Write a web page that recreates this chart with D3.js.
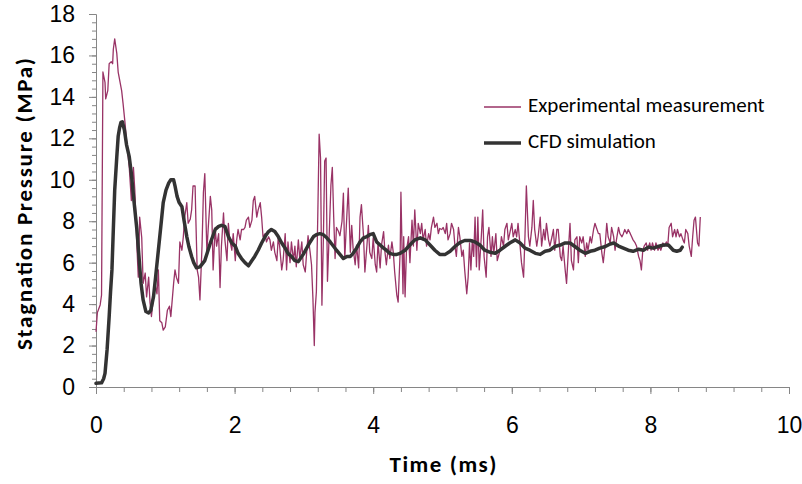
<!DOCTYPE html>
<html>
<head>
<meta charset="utf-8">
<script src="https://cdn.jsdelivr.net/npm/d3@7"></script>
<style>
  html, body { margin: 0; padding: 0; background: #fff; }
  svg { display: block; font-family: Calibri, Carlito, Lato, sans-serif; }
</style>
</head>
<body>
<svg id="chart" width="802" height="484"></svg>
<script>
// Measured stagnation pressure: [time (ms), pressure (MPa)]
const expData = [
  [0.00,2.67],[0.02,3.6],[0.06,3.96],[0.08,4.44],[0.10,15.2],[0.13,14.7],[0.14,13.9],[0.17,14.3],[0.19,15.6],[0.22,15.7],
  [0.24,15.6],[0.25,16.3],[0.27,16.8],[0.30,16.1],[0.32,15.2],[0.37,14.3],[0.39,13.7],[0.42,12.7],[0.44,11.9],[0.48,10.6],
  [0.51,9.0],[0.54,10.6],[0.56,9.5],[0.59,6.8],[0.61,5.3],[0.63,8.2],[0.66,7.2],[0.68,5.0],[0.71,5.5],[0.73,4.35],
  [0.76,5.3],[0.78,4.06],[0.80,3.4],[0.85,5.0],[0.88,4.5],[0.90,5.65],[0.92,3.2],[0.95,3.1],[0.97,2.75],[1.00,2.9],
  [1.03,3.7],[1.06,3.9],[1.08,3.4],[1.12,5.0],[1.14,5.65],[1.16,5.3],[1.19,5.0],[1.21,7.0],[1.24,6.6],[1.26,7.25],
  [1.28,8.2],[1.31,8.9],[1.33,7.9],[1.36,8.1],[1.38,8.55],[1.40,9.7],[1.43,9.7],[1.44,8.2],[1.46,5.65],[1.48,5.3],
  [1.50,4.2],[1.53,6.8],[1.55,9.4],[1.57,10.3],[1.60,6.5],[1.62,7.7],[1.65,9.2],[1.67,8.55],[1.69,5.65],[1.72,7.7],
  [1.74,6.8],[1.77,7.4],[1.79,4.8],[1.81,6.8],[1.84,8.4],[1.86,7.1],[1.89,6.1],[1.91,7.9],[1.93,7.1],[1.96,6.6],
  [1.98,7.4],[2.01,6.1],[2.03,7.1],[2.05,7.6],[2.08,7.1],[2.10,7.6],[2.13,7.6],[2.15,7.7],[2.17,8.05],[2.20,8.2],
  [2.22,7.7],[2.25,8.05],[2.27,9.0],[2.29,9.2],[2.32,8.2],[2.34,8.55],[2.37,8.9],[2.39,8.2],[2.41,7.25],[2.44,7.4],
  [2.46,7.0],[2.49,7.25],[2.51,7.1],[2.53,6.6],[2.56,7.0],[2.58,6.5],[2.61,6.1],[2.63,7.25],[2.65,6.8],[2.68,5.65],
  [2.70,6.1],[2.73,7.4],[2.75,5.65],[2.77,7.0],[2.80,6.0],[2.82,7.0],[2.85,6.1],[2.87,6.8],[2.89,5.8],[2.92,7.1],
  [2.94,6.2],[2.97,7.0],[2.99,5.9],[3.02,5.55],[3.04,6.5],[3.06,7.3],[3.09,6.5],[3.11,5.9],[3.13,4.3],[3.15,2.0],
  [3.16,3.6],[3.18,4.6],[3.20,8.2],[3.22,12.2],[3.24,11.05],[3.26,3.95],[3.28,7.0],[3.30,10.9],[3.32,11.05],[3.34,5.1],
  [3.37,7.8],[3.39,9.75],[3.41,10.6],[3.43,8.2],[3.45,6.2],[3.47,7.7],[3.50,7.5],[3.52,7.3],[3.55,8.0],[3.57,9.35],
  [3.59,6.2],[3.62,8.3],[3.64,9.6],[3.67,6.5],[3.69,7.8],[3.71,6.7],[3.74,5.9],[3.76,6.85],[3.79,5.75],[3.81,8.2],
  [3.83,8.8],[3.86,7.3],[3.88,5.55],[3.91,6.85],[3.93,7.8],[3.95,6.5],[3.98,6.2],[4.00,7.2],[4.03,5.9],[4.05,5.55],
  [4.07,7.0],[4.10,5.75],[4.12,6.85],[4.15,7.5],[4.17,6.5],[4.19,5.9],[4.22,6.85],[4.24,6.2],[4.27,7.0],[4.29,6.5],
  [4.31,5.55],[4.34,4.45],[4.36,4.1],[4.39,6.6],[4.40,9.4],[4.43,4.5],[4.44,7.25],[4.46,4.35],[4.48,6.6],[4.51,7.25],
  [4.53,6.0],[4.56,8.05],[4.58,6.8],[4.60,8.55],[4.63,6.6],[4.65,7.9],[4.68,7.4],[4.70,7.9],[4.72,7.1],[4.75,7.6],
  [4.77,6.8],[4.80,7.4],[4.82,7.1],[4.84,7.7],[4.87,8.2],[4.89,7.7],[4.92,7.9],[4.94,7.4],[4.96,7.65],[4.99,7.6],
  [5.01,7.7],[5.04,7.4],[5.06,7.9],[5.08,7.1],[5.11,7.4],[5.13,7.9],[5.16,7.6],[5.18,6.8],[5.20,6.3],[5.23,7.7],
  [5.25,7.25],[5.28,6.3],[5.30,6.6],[5.32,5.65],[5.35,4.5],[5.37,5.3],[5.39,6.95],[5.41,5.65],[5.43,7.1],[5.45,6.3],
  [5.47,8.2],[5.49,5.8],[5.51,8.2],[5.53,5.65],[5.56,7.25],[5.58,8.55],[5.60,6.3],[5.63,5.3],[5.65,7.25],[5.67,7.7],
  [5.70,6.3],[5.72,7.25],[5.74,6.45],[5.77,7.4],[5.79,6.1],[5.83,6.6],[5.85,7.25],[5.88,6.8],[5.90,7.6],[5.93,7.9],
  [5.95,7.1],[5.97,7.4],[6.00,7.9],[6.02,7.25],[6.05,7.6],[6.07,7.25],[6.09,7.9],[6.12,6.8],[6.14,6.0],[6.17,5.3],
  [6.19,7.25],[6.21,9.7],[6.24,7.25],[6.26,6.8],[6.29,7.7],[6.31,9.0],[6.33,7.6],[6.36,6.8],[6.38,7.25],[6.41,8.2],
  [6.43,6.8],[6.46,7.6],[6.48,7.1],[6.50,7.9],[6.53,7.1],[6.55,6.8],[6.58,7.25],[6.60,7.6],[6.62,6.6],[6.65,7.6],
  [6.67,7.6],[6.70,6.3],[6.72,6.1],[6.74,6.8],[6.77,5.65],[6.79,5.0],[6.82,6.8],[6.84,7.9],[6.86,6.1],[6.89,5.65],
  [6.91,7.1],[6.94,7.25],[6.96,6.0],[6.98,7.25],[7.01,6.95],[7.03,7.25],[7.06,6.3],[7.08,6.95],[7.10,6.6],[7.13,7.25],
  [7.15,6.95],[7.18,7.6],[7.20,7.9],[7.22,7.7],[7.25,7.4],[7.27,7.4],[7.30,6.45],[7.32,6.0],[7.35,6.95],[7.37,7.9],
  [7.39,7.25],[7.42,6.95],[7.44,7.7],[7.47,7.25],[7.49,6.6],[7.51,7.1],[7.54,7.7],[7.56,7.4],[7.59,7.25],[7.61,7.4],
  [7.63,7.6],[7.66,7.4],[7.68,7.6],[7.71,7.4],[7.73,7.25],[7.75,7.1],[7.78,6.95],[7.80,6.8],[7.83,6.3],[7.85,6.1],
  [7.87,5.65],[7.89,6.6],[7.91,6.8],[7.94,6.95],[7.96,6.6],[7.99,6.95],[8.01,6.6],[8.03,6.95],[8.06,6.6],[8.08,6.95],
  [8.11,6.6],[8.13,6.8],[8.15,6.6],[8.18,6.95],[8.20,6.8],[8.23,7.0],[8.25,6.8],[8.27,7.7],[8.30,7.9],[8.32,7.25],
  [8.35,7.6],[8.37,7.25],[8.39,7.6],[8.42,7.25],[8.44,7.4],[8.47,7.1],[8.49,6.95],[8.51,7.6],[8.54,7.4],[8.56,6.8],
  [8.59,6.3],[8.61,7.25],[8.63,8.05],[8.65,8.2],[8.68,6.95],[8.70,6.8],[8.72,8.2]
];

// Simulated stagnation pressure: [time (ms), pressure (MPa)]
const cfdData = [
  [0.00,0.18],[0.08,0.2],[0.11,0.4],[0.13,0.66],[0.16,1.8],[0.19,3.4],[0.21,4.6],[0.23,5.65],[0.25,7.6],[0.27,9.5],[0.30,11.1],[0.32,12.1],
  [0.34,12.5],[0.36,12.77],[0.38,12.8],[0.41,12.4],[0.44,11.7],[0.48,11.1],[0.51,10.3],[0.55,8.9],[0.59,7.6],[0.62,6.3],[0.65,5.0],
  [0.68,4.2],[0.72,3.64],[0.76,3.57],[0.79,3.7],[0.83,4.36],[0.86,5.3],[0.90,6.6],[0.94,7.9],[0.97,8.9],[1.01,9.5],
  [1.05,9.85],[1.08,10.0],[1.12,10.0],[1.14,9.7],[1.17,9.2],[1.20,8.9],[1.24,8.7],[1.27,8.05],[1.31,7.26],[1.34,6.78],
  [1.38,6.3],[1.41,6.0],[1.45,5.75],[1.50,5.8],[1.57,6.1],[1.65,6.95],[1.72,7.6],[1.77,7.75],[1.81,7.8],[1.86,7.75],
  [1.91,7.26],[1.96,6.95],[2.01,6.8],[2.05,6.45],[2.10,6.2],[2.15,6.0],[2.20,5.85],[2.25,6.1],[2.29,6.3],[2.34,6.6],
  [2.39,6.95],[2.44,7.26],[2.49,7.5],[2.53,7.6],[2.58,7.5],[2.63,7.26],[2.68,6.95],[2.73,6.7],[2.77,6.45],[2.82,6.3],
  [2.87,6.1],[2.92,6.05],[2.99,6.4],[3.04,6.7],[3.09,7.0],[3.14,7.26],[3.18,7.35],[3.23,7.4],[3.28,7.35],[3.33,7.2],
  [3.38,7.0],[3.43,6.78],[3.47,6.6],[3.52,6.4],[3.57,6.2],[3.62,6.3],[3.67,6.3],[3.71,6.45],[3.76,6.7],[3.81,7.0],
  [3.86,7.2],[3.91,7.26],[3.95,7.35],[4.00,7.4],[4.05,7.0],[4.10,6.85],[4.15,6.7],[4.19,6.6],[4.24,6.45],[4.29,6.4],
  [4.34,6.4],[4.39,6.45],[4.46,6.6],[4.53,6.85],[4.60,7.1],[4.68,7.2],[4.75,7.1],[4.82,6.85],[4.89,6.6],[4.96,6.4],
  [5.04,6.4],[5.11,6.55],[5.18,6.78],[5.25,6.97],[5.32,7.07],[5.40,7.07],[5.47,7.0],[5.54,6.85],[5.61,6.6],[5.69,6.5],
  [5.76,6.45],[5.83,6.6],[5.90,6.78],[5.97,6.95],[6.05,7.1],[6.12,6.95],[6.19,6.7],[6.26,6.6],[6.34,6.45],[6.41,6.4],
  [6.48,6.55],[6.55,6.6],[6.62,6.78],[6.70,6.85],[6.77,6.95],[6.84,6.95],[6.91,6.78],[6.98,6.6],[7.06,6.45],[7.13,6.55],
  [7.20,6.6],[7.27,6.7],[7.35,6.78],[7.42,6.9],[7.47,6.95],[7.54,6.8],[7.61,6.7],[7.68,6.6],[7.75,6.55],[7.83,6.65],
  [7.90,6.6],[7.97,6.75],[8.04,6.7],[8.11,6.78],[8.19,6.85],[8.26,6.85],[8.33,6.6],[8.38,6.55],[8.43,6.6],[8.46,6.75]
];

const seriesNames = ["Experimental measurement", "CFD simulation"];
const seriesColors = ["#993366", "#333333"];
const xTickValues = [0, 2, 4, 6, 8, 10];
const yTickValues = [0, 2, 4, 6, 8, 10, 12, 14, 16, 18];
const xTitle = "Time (ms)";
const yTitle = "Stagnation Pressure (MPa)";

const svg = d3.select("#chart");
const axisColor = "#868686";

const x = d3.scaleLinear().domain([0, 10]).range([96, 789]);
const y = d3.scaleLinear().domain([0, 18]).range([387, 14]);

// minor ticks: five per major interval
const xMinor = d3.range(0, 26).map(i => i * 0.4);
const yMinor = d3.range(0, 46).map(i => i * 0.4);

function styleAxis(g) {
  g.attr("color", axisColor);
  g.selectAll("text").attr("fill", "#000");
}

// y axis
svg.append("g")
  .attr("transform", "translate(96,0)")
  .call(d3.axisLeft(y).tickValues(yMinor).tickSize(4).tickSizeOuter(0).tickFormat(""))
  .call(styleAxis);
svg.append("g")
  .attr("transform", "translate(96,0)")
  .call(d3.axisLeft(y).tickValues(yTickValues).tickSize(7).tickSizeOuter(0).tickPadding(14).tickFormat(d3.format("d")))
  .call(styleAxis)
  .call(g => g.selectAll("text").attr("font-size", 23));

// x axis
svg.append("g")
  .attr("transform", "translate(0,387)")
  .call(d3.axisBottom(x).tickValues(xMinor).tickSize(5).tickSizeOuter(0).tickFormat(""))
  .call(styleAxis);
svg.append("g")
  .attr("transform", "translate(0,387)")
  .call(d3.axisBottom(x).tickValues(xTickValues).tickSize(7).tickSizeOuter(0).tickPadding(23).tickFormat(d3.format("d")))
  .call(styleAxis)
  .call(g => g.selectAll("text").attr("font-size", 23));

// axis titles
svg.append("text")
  .attr("x", 443).attr("y", 466)
  .attr("text-anchor", "middle").attr("dominant-baseline", "middle")
  .attr("font-weight", "bold").attr("font-size", 23)
  .attr("textLength", 107).attr("lengthAdjust", "spacing")
  .text(xTitle);
svg.append("text")
  .attr("transform", "translate(26,204) rotate(-90)")
  .attr("text-anchor", "middle").attr("dominant-baseline", "middle")
  .attr("font-weight", "bold").attr("font-size", 23)
  .attr("textLength", 292).attr("lengthAdjust", "spacing")
  .text(yTitle);

// series lines
const line = d3.line().x(d => x(d[0])).y(d => y(d[1]));
svg.append("path")
  .datum(expData)
  .attr("d", line)
  .attr("fill", "none")
  .attr("stroke", seriesColors[0])
  .attr("stroke-width", 1.3)
  .attr("stroke-linejoin", "round");
svg.append("path")
  .datum(cfdData)
  .attr("d", line)
  .attr("fill", "none")
  .attr("stroke", seriesColors[1])
  .attr("stroke-width", 3.5)
  .attr("stroke-linejoin", "round")
  .attr("stroke-linecap", "round");

// legend
const legend = svg.append("g");
const legendY = [107, 143];
const legendWidths = [1.3, 3.5];
seriesNames.forEach((name, i) => {
  legend.append("line")
    .attr("x1", 484).attr("x2", 521)
    .attr("y1", legendY[i]).attr("y2", legendY[i])
    .attr("stroke", seriesColors[i]).attr("stroke-width", legendWidths[i]);
  legend.append("text")
    .attr("x", 528).attr("y", legendY[i])
    .attr("dominant-baseline", "middle")
    .attr("font-size", 21)
    .text(name);
});
</script>
</body>
</html>
